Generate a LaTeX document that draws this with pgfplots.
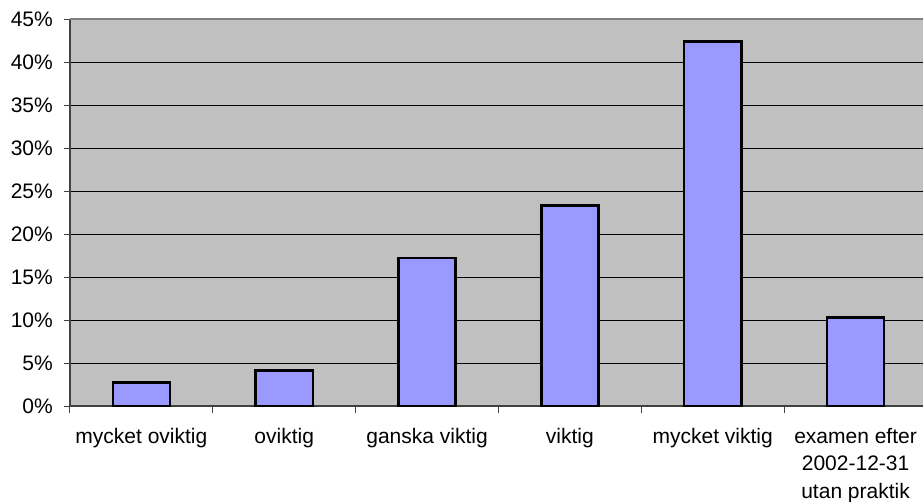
\documentclass[border=0pt]{standalone}
\usepackage{pgfplots}
\pgfplotsset{compat=1.18}
\usepackage{fontspec}
\setmainfont{Liberation Sans}
\definecolor{plotgray}{HTML}{C0C0C0}
\definecolor{barblue}{HTML}{9999FF}
\definecolor{axisdark}{HTML}{404040}
\begin{document}
\fontsize{21}{27.5}\selectfont
\begin{tikzpicture}
\useasboundingbox (-70pt,-95pt) rectangle (853pt,406pt);
\begin{axis}[
    at={(0,0)}, anchor=south west,
    scale only axis,
    width=857pt, height=387pt,
    ybar, bar width=0.4,
    xmin=-0.5, xmax=5.5,
    ymin=0, ymax=45,
    axis x line*=bottom, axis y line*=left,
    axis line style={axisdark, line width=1.6pt},
    axis background/.style={fill=plotgray},
    ytick={0,5,...,45},
    yticklabel={\pgfmathprintnumber{\tick}\%},
    /pgf/number format/assume math mode=true,
    ymajorgrids, grid style={black, line width=0.8pt},
    xtick={0,...,5},
    xticklabels={mycket oviktig, oviktig, ganska viktig, viktig, mycket viktig, {examen efter\\2002-12-31\\utan praktik}},
    xticklabel style={align=center, yshift=-9pt},
    minor xtick={-0.5,0.5,...,5.5},
    tick align=outside,
    major x tick style={draw=none},
    minor tick length=7pt,
    major tick length=6pt,
    tick style={axisdark, line width=1pt},
    yticklabel style={xshift=-4pt},
    every tick label/.append style={font=\fontsize{21}{27.5}\selectfont},
    after end axis/.code={
        \draw[gray, line width=1.6pt] (rel axis cs:0,1) -- (rel axis cs:1,1);
    },
]
\addplot[ybar, fill=barblue, draw=black, line width=2.6pt] coordinates {
    (0,2.75) (1,4.1) (2,17.2) (3,23.3) (4,42.4) (5,10.3)
};
\end{axis}
\end{tikzpicture}
\end{document}
